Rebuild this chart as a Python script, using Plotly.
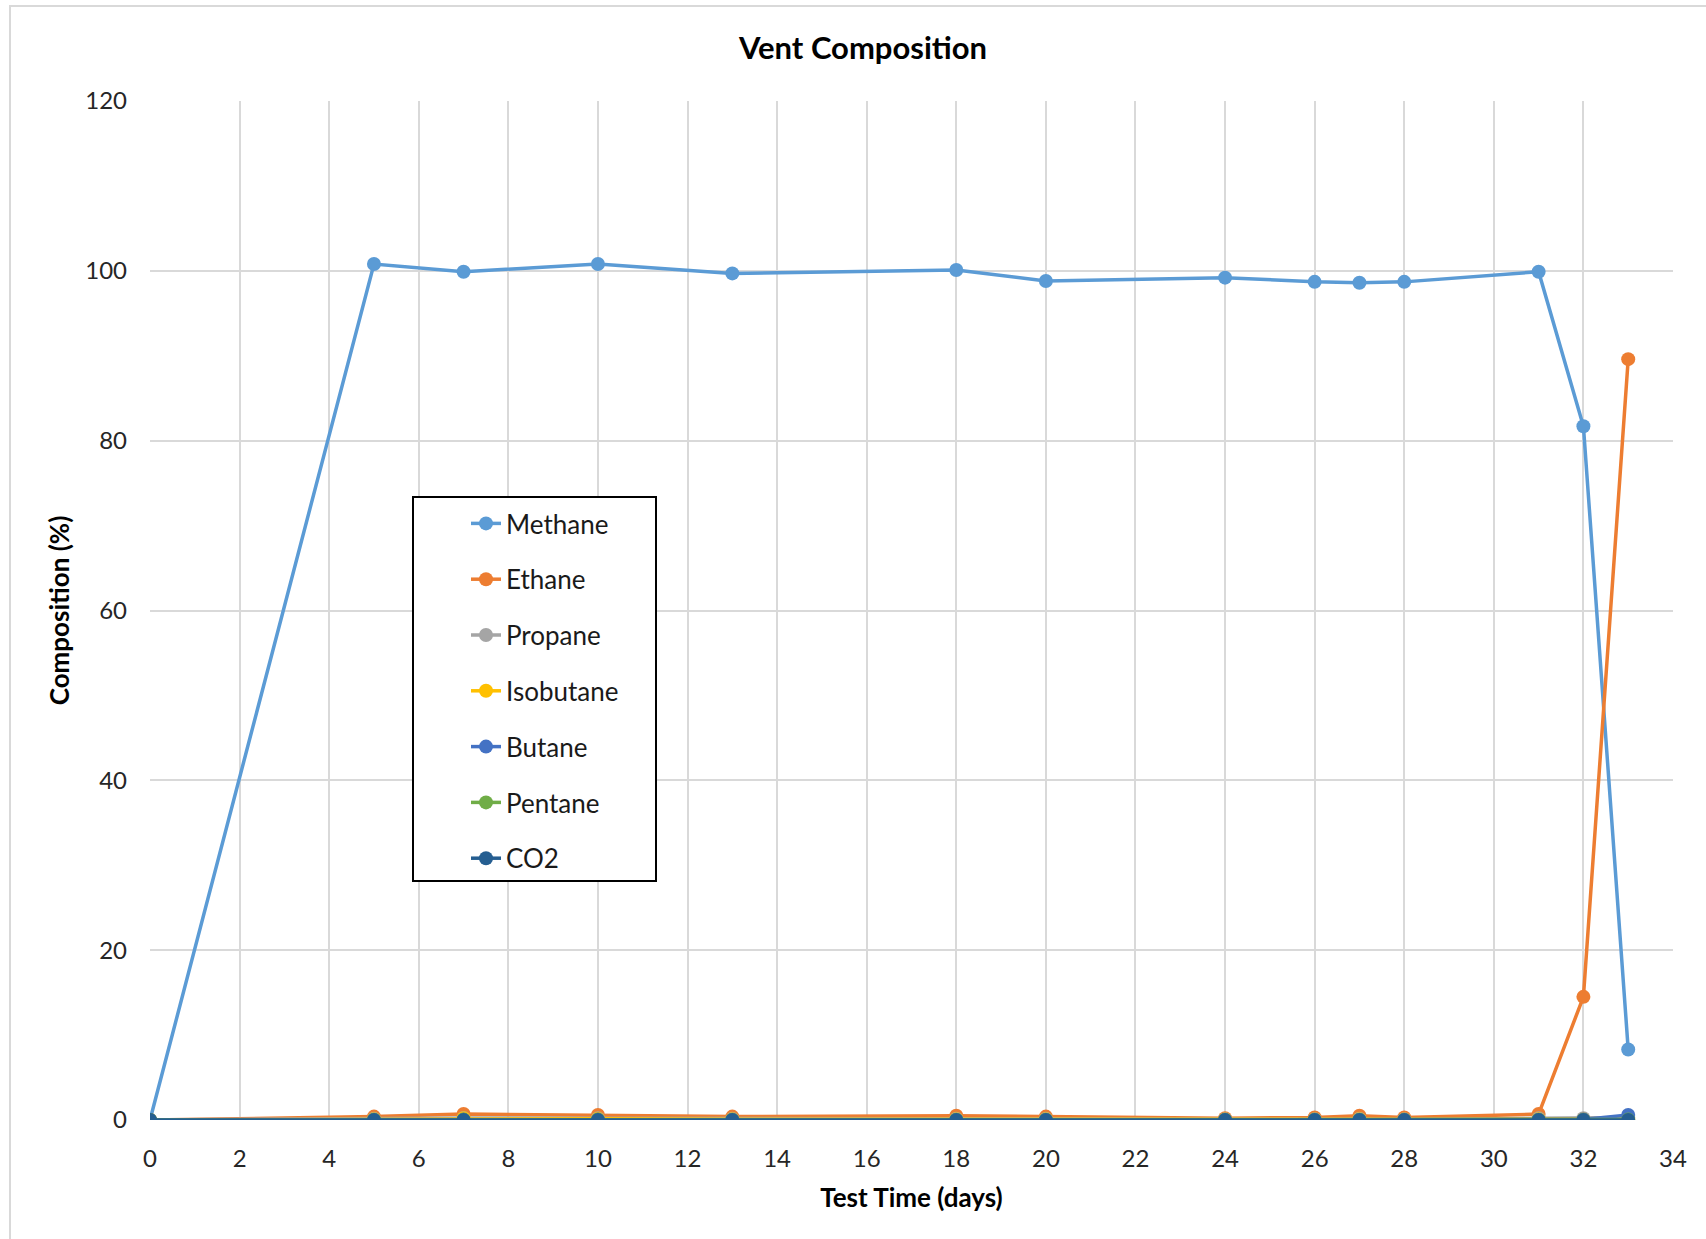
import plotly.graph_objects as go

days = [0, 5, 7, 10, 13, 18, 20, 24, 26, 27, 28, 31, 32, 33]
methane = [0, 100.8, 99.9, 100.8, 99.7, 100.1, 98.8, 99.2, 98.7, 98.6, 98.7, 99.9, 81.7, 8.3]
ethane = [0, 0.4, 0.7, 0.6, 0.4, 0.5, 0.4, 0.2, 0.3, 0.5, 0.3, 0.7, 14.5, 89.6]
propane = [0, 0.15, 0.25, 0.2, 0.15, 0.15, 0.15, 0.1, 0.1, 0.15, 0.1, 0.2, 0.2, 0.3]
isobutane = [0, 0.08, 0.2, 0.15, 0.1, 0.1, 0.1, 0.05, 0.05, 0.1, 0.05, 0.1, 0.05, 0.1]
butane = [0, 0.03, 0.05, 0.05, 0.03, 0.03, 0.03, 0.02, 0.02, 0.03, 0.02, 0.03, 0.05, 0.6]
pentane = [0, 0.01, 0.02, 0.02, 0.01, 0.01, 0.01, 0.01, 0.01, 0.01, 0.01, 0.01, 0.01, 0.05]
co2 = [0, 0, 0, 0, 0, 0, 0, 0, 0, 0, 0, 0, 0, 0]

series = [
    ("Methane", methane, "#5B9BD5"),
    ("Ethane", ethane, "#ED7D31"),
    ("Propane", propane, "#A5A5A5"),
    ("Isobutane", isobutane, "#FFC000"),
    ("Butane", butane, "#4472C4"),
    ("Pentane", pentane, "#70AD47"),
    ("CO2", co2, "#255E91"),
]

x_ticks = list(range(0, 35, 2))
y_ticks = list(range(0, 121, 20))

FONT = "Lato"

fig = go.Figure()
for i, (name, vals, color) in enumerate(series):
    fig.add_trace(go.Scatter(
        x=days, y=vals, name=name, mode="lines+markers",
        line=dict(color=color, width=3.5),
        marker=dict(color=color, size=14),
        legendgroup="g%d" % i,
    ))

W, H = 1706, 1239
L, R, T, B = 150, 1673, 101, 1120
pw, ph = R - L, B - T

def px(x):
    return (x - L) / pw

def py(y):
    return (B - y) / ph

fig.update_layout(
    width=W, height=H,
    margin=dict(l=L, r=W - R, t=T, b=H - B),
    paper_bgcolor="white", plot_bgcolor="white",
    font=dict(family=FONT, size=24, color="#262626"),
    title=dict(text="<b>Vent Composition</b>", x=863 / W, xanchor="center",
               y=1 - 48 / H, yanchor="middle",
               font=dict(family=FONT, size=31, color="#000000")),
    xaxis=dict(
        range=[0, 34], tickvals=x_ticks, ticktext=[str(v) for v in x_ticks],
        showgrid=True, gridcolor="#D9D9D9", gridwidth=2,
        zeroline=False, showline=False, ticks="",
        ticklabelstandoff=22,
        tickfont=dict(family=FONT, size=24, color="#262626"),
        title=dict(text="<b>Test Time (days)</b>", standoff=17,
                   font=dict(family=FONT, size=26, color="#000000")),
    ),
    yaxis=dict(
        range=[0, 120], tickvals=y_ticks, ticktext=[str(v) for v in y_ticks],
        showgrid=True, gridcolor="#D9D9D9", gridwidth=2,
        zeroline=False, showline=False, ticks="",
        ticklabelstandoff=22,
        tickfont=dict(family=FONT, size=24, color="#262626"),
        title=dict(text="<b>Composition (%)</b>", standoff=8,
                   font=dict(family=FONT, size=26, color="#000000")),
    ),
    legend=dict(
        x=px(466), y=py(500), xanchor="left", yanchor="top",
        xref="paper", yref="paper",
        bgcolor="rgba(0,0,0,0)", borderwidth=0,
        font=dict(family=FONT, size=26, color="#1a1a1a"),
        tracegroupgap=19,
    ),
    showlegend=True,
    shapes=[
        dict(type="rect", xref="paper", yref="paper",
             x0=px(10), x1=px(1720), y0=py(1250), y1=py(6),
             line=dict(color="#D9D9D9", width=2), fillcolor="rgba(0,0,0,0)",
             layer="below"),
        dict(type="rect", xref="paper", yref="paper",
             x0=px(413), x1=px(656), y0=py(881), y1=py(497),
             line=dict(color="#000000", width=2), fillcolor="white",
             layer="above"),
    ],
)

fig.write_html("out.html")
